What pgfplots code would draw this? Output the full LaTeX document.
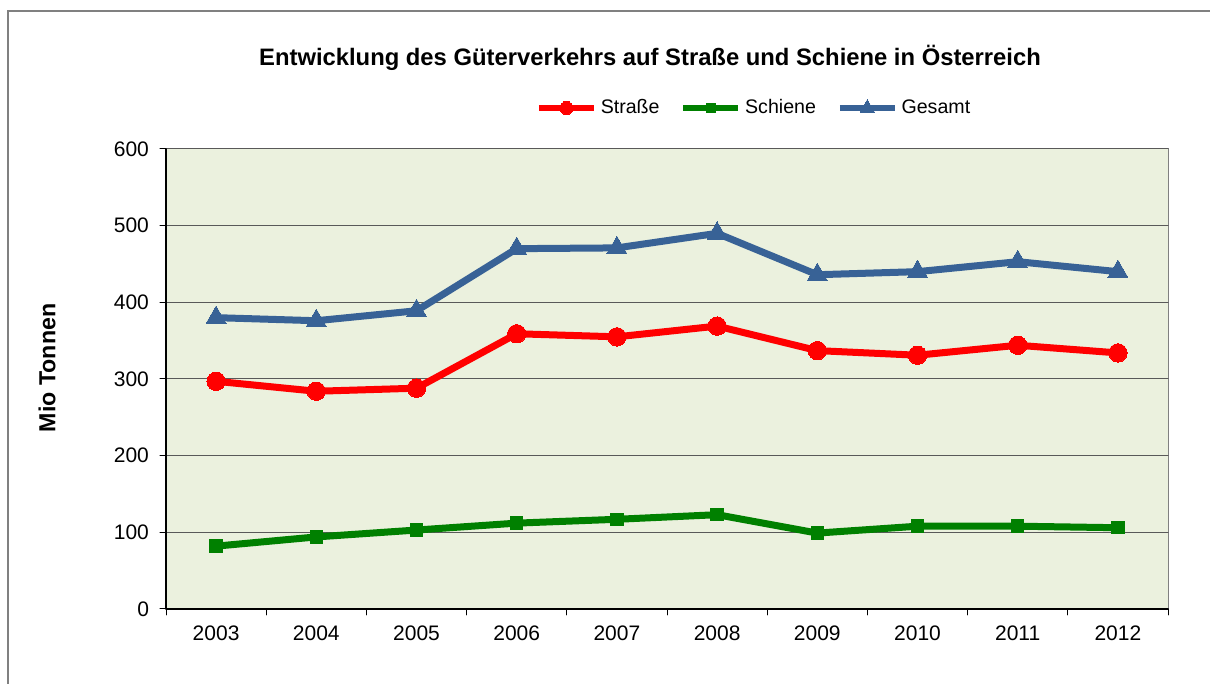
\documentclass[border=0pt]{standalone}
\usepackage{pgfplots}
\pgfplotsset{compat=1.18}
\usepackage{fontspec}
\setmainfont{Liberation Sans}
\definecolor{bgc}{RGB}{235,241,222}
\definecolor{gridc}{RGB}{89,89,89}
\definecolor{framec}{RGB}{128,128,128}
\definecolor{cred}{RGB}{255,0,0}
\definecolor{cgreen}{RGB}{0,128,0}
\definecolor{cblue}{RGB}{56,98,150}
\begin{document}
\begin{tikzpicture}[x=0.5pt,y=0.5pt]
\useasboundingbox (0,0) rectangle (1210,684);
\draw[color=framec, line width=0.6pt] (8,-10) -- (8,673) -- (1220,673);
\node[font=\bfseries\fontsize{11.9}{14}\selectfont] at (650,626) {Entwicklung des Güterverkehrs auf Straße und Schiene in Österreich};
\node[font=\bfseries\fontsize{11.6}{14}\selectfont, rotate=90] at (47,316) {Mio Tonnen};
\begin{axis}[
  at={(83pt,37.5pt)}, anchor=south west,
  width=501pt, height=230pt, scale only axis,
  xmin=-0.5, xmax=9.5, ymin=0, ymax=600,
  axis lines=left, axis line style={-, black, line width=0.6pt},
  axis background/.style={fill=bgc, draw=framec, line width=0.5pt},
  xtick={0,...,9},
  xticklabels={2003,2004,2005,2006,2007,2008,2009,2010,2011,2012},
  minor xtick={-0.5,0.5,...,9.5},
  major x tick style={draw=none},
  minor tick length=3pt,
  ytick={0,100,...,600},
  major tick length=3pt,
  tick align=outside,
  tick style={black, line width=0.5pt},
  ymajorgrids, grid style={gridc, line width=0.5pt},
  ticklabel style={font=\fontsize{10.5}{12}\selectfont},
  /pgf/number format/assume math mode=true,
  yticklabel style={xshift=-2pt},
  xticklabel style={yshift=-2pt},
  legend columns=3,
  legend style={at={(0.588,1.089)}, anchor=center, draw=none, fill=none,
    font=\fontsize{9.8}{11}\selectfont,
    /tikz/every even column/.append style={column sep=8.5pt}},
  legend image code/.code={\draw[mark repeat=2,mark phase=2,#1, line width=2.8pt, mark options={solid, line width=0pt, scale=0.72}] plot coordinates {(0pt,0pt) (13.75pt,0pt) (27.5pt,0pt)};},
  line join=round, line cap=round,
]
\addplot[cred, line width=3.5pt, mark=*, mark size=4.6pt, mark options={solid, line width=0pt}] coordinates {
(0,297) (1,284) (2,288) (3,359) (4,355) (5,369) (6,337) (7,331) (8,344) (9,334)};
\addlegendentry{Straße}
\addplot[cgreen, line width=3.5pt, mark=square*, mark size=3.1pt, mark options={solid, line width=0pt}] coordinates {
(0,82) (1,94) (2,103) (3,112) (4,117) (5,123) (6,99) (7,108) (8,108) (9,106)};
\addlegendentry{Schiene}
\addplot[cblue, line width=3.5pt, mark=triangle*, mark size=5.8pt, mark options={solid, line width=0pt}] coordinates {
(0,380) (1,376) (2,389) (3,470) (4,471) (5,490) (6,436) (7,440) (8,453) (9,440)};
\addlegendentry{Gesamt}
\end{axis}
\end{tikzpicture}
\end{document}
